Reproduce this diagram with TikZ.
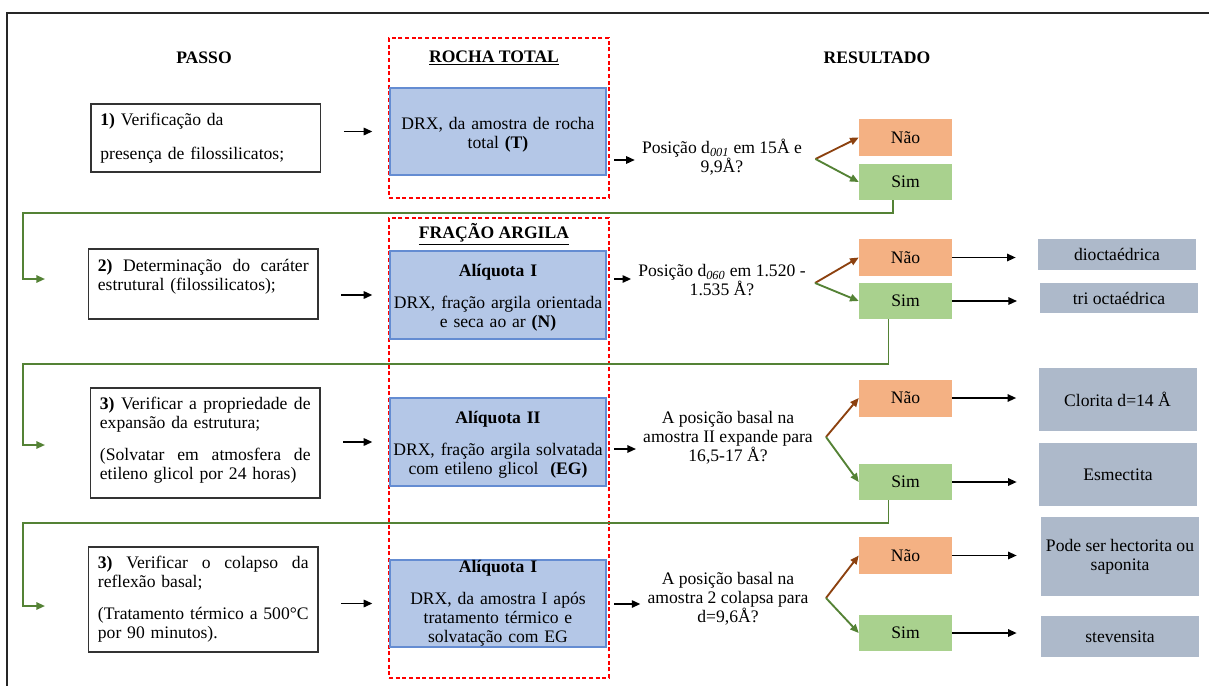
\documentclass[tikz,border=0pt]{standalone}
\usepackage{fontspec}
\setmainfont{Liberation Serif}
\usetikzlibrary{arrows.meta,calc}
\definecolor{bluefill}{RGB}{180,199,231}
\definecolor{blueline}{RGB}{100,140,210}
\definecolor{orangefill}{RGB}{244,177,131}
\definecolor{greenfill}{RGB}{169,209,142}
\definecolor{grayfill}{RGB}{173,185,202}
\definecolor{brownarr}{RGB}{140,65,15}
\definecolor{greenarr}{RGB}{84,130,53}
\newcommand{\jl}[1]{\leavevmode\hbox to 158pt{#1}}
\newcommand{\toppad}{\rule{0pt}{14pt}}
\newcommand{\botpad}{\rule[-7.5pt]{0pt}{7.5pt}}
\begin{document}
\begin{tikzpicture}[x=0.75pt,y=-0.75pt,
  every node/.style={font=\fontsize{13.2}{14.25}\selectfont, text=black},
  hdr/.style={font=\fontsize{13.2}{14.25}\selectfont\bfseries, inner sep=0pt},
  stepbox/.style={draw=black!80, line width=1pt, fill=white, text width=158pt, align=left, minimum width=172pt, minimum height=#1, inner sep=0pt},
  bluebox/.style={draw=blueline, line width=0.9pt, fill=bluefill, text width=160pt, align=center, minimum width=162pt, minimum height=#1, inner sep=0pt},
  question/.style={align=center, inner sep=0pt},
  naobox/.style={fill=orangefill, minimum width=69.75pt, minimum height=27.75pt, inner sep=0pt},
  simbox/.style={fill=greenfill, minimum width=69.75pt, minimum height=27pt, inner sep=0pt},
  resbox/.style={fill=grayfill, align=center, minimum width=118.5pt, minimum height=#1, inner sep=0pt},
  redbox/.style={draw=red, line width=1.1pt, dash pattern=on 3pt off 2pt, minimum width=165pt, minimum height=#1, inner sep=0pt},
  tip/.style={-{Triangle[length=6.5pt,width=5.5pt]}},
  arr/.style={draw=black, line width=1.4pt, tip},
  brarr/.style={draw=brownarr, line width=1.4pt, tip},
  gyarr/.style={draw=greenarr, line width=1.4pt, tip},
  loopc/.style={draw=greenarr, line width=1.4pt, tip},
  framel/.style={draw=black!85, line width=1pt}]
\useasboundingbox (0,0) rectangle (1209,686);
% frame
\coordinate (fr0) at (1209,13);
\coordinate (fr1) at (7,13);
\coordinate (fr2) at (7,686);
\draw[framel] (fr0) -- (fr1) -- (fr2);
% red dashed groups
\node[redbox=120pt] (red1) at (499,118) {};
\node[redbox=345pt] (red2) at (499,448) {};
% headers
\node[hdr] (passo) at (204,58) {PASSO};
\node[hdr] (rocha) at (494,58) {\underline{ROCHA TOTAL}};
\node[hdr] (resultado) at (877,58) {RESULTADO};
\node[hdr] (fracao) at (494,234) {\underline{FRAÇÃO ARGILA}};
% step boxes
\node[stepbox=51pt] (s1) at (205.75,138) {\textbf{1)} Verificação da\\[11pt]presença de filossilicatos;};
\node[stepbox=52.5pt] (s2) at (203.25,284) {\jl{\textbf{2)}\hfill Determinação\hfill do\hfill caráter}\\estrutural (filossilicatos);\\\mbox{}};
\node[stepbox=82.5pt] (s3) at (205.25,443) {\jl{\textbf{3)}\hfill Verificar\hfill a\hfill propriedade\hfill de}\\expansão da estrutura;\\[9.75pt]\jl{(Solvatar\hfill em\hfill atmosfera\hfill de}\\etileno glicol por 24 horas)\botpad};
\node[stepbox=78.75pt] (s4) at (203.25,599.5) {\jl{\textbf{3)}\hfill Verificar\hfill o\hfill colapso\hfill da}\\reflexão basal;\\[9.75pt]\jl{(Tratamento\hfill térmico\hfill a\hfill 500°C}\\por 90 minutos).};
% blue boxes
\node[bluebox=65.25pt] (b1) at (498,131.5) {\toppad DRX, da amostra de rocha\\total \textbf{(T)}};
\node[bluebox=66pt] (b2) at (498,295) {\toppad\textbf{Alíquota I}\\[9.75pt]DRX, fração argila orientada\\e seca ao ar \textbf{(N)}};
\node[bluebox=66pt] (b3) at (498,442) {\toppad\textbf{Alíquota II}\\[9.75pt]DRX, fração argila solvatada\\com etileno glicol~ \textbf{(EG)}};
\node[bluebox=65.25pt] (b4) at (498,603.5) {\textbf{Alíquota I}\\[9.75pt]DRX, da amostra I após\\tratamento térmico e\\solvatação com EG};
% questions
\node[question] (q1) at (722,157.5) {Posição d\textsubscript{\textit{001}} em 15Å e\\9,9Å?};
\node[question] (q2) at (722,280.5) {Posição d\textsubscript{\textit{060}} em 1.520 -\\1.535 Å?};
\node[question] (q3) at (728,437.5) {A posição basal na\\amostra II expande para\\16,5-17 Å?};
\node[question] (q4) at (728,599) {A posição basal na\\amostra 2 colapsa para\\d=9,6Å?};
% Nao / Sim
\node[naobox] (n1) at (905.5,137.5) {Não};
\node[simbox] (y1) at (905.5,182) {Sim};
\node[naobox] (n2) at (905.5,257.5) {Não};
\node[simbox] (y2) at (905.5,301) {Sim};
\node[naobox] (n3) at (905.5,398) {Não};
\node[simbox] (y3) at (905.5,482) {Sim};
\node[naobox] (n4) at (905.5,555.5) {Não};
\node[simbox] (y4) at (905.5,633) {Sim};
% results
\node[resbox=23.25pt] (r2a) at (1117,254.5) {dioctaédrica};
\node[resbox=22.5pt] (r2b) at (1119,298) {tri octaédrica};
\node[resbox=47.25pt] (r3a) at (1117.5,399.5) {Clorita d=14 Å};
\node[resbox=47.25pt] (r3b) at (1118,474.5) {Esmectita};
\node[resbox=59.25pt] (r4a) at (1120,556.5) {Pode ser hectorita ou\\saponita};
\node[resbox=30.75pt] (r4b) at (1120,636.5) {stevensita};
% step -> blue arrows
\draw[arr, shorten <=17pt, shorten >=12.75pt] (b1.west -| s1.east) -- (b1.west);
\draw[arr, shorten <=17pt, shorten >=12.75pt] (b2.west -| s2.east) -- (b2.west);
\draw[arr, shorten <=17pt, shorten >=12.75pt] (b3.west -| s3.east) -- (b3.west);
\draw[arr, shorten <=17pt, shorten >=12.75pt] (b4.west -| s4.east) -- (b4.west);
% blue -> question arrows
\draw[arr, shorten <=5.6pt, shorten >=5.2pt] ($(b1.east |- q1.west)+(0,2.5)$) -- ($(q1.west)+(0,2.5)$);
\draw[arr, shorten <=5.6pt, shorten >=5.2pt] ($(b2.east |- q2.west)+(0,-1.5)$) -- ($(q2.west)+(0,-1.5)$);
\draw[arr, shorten <=5.6pt, shorten >=5.2pt] ($(b3.east |- q3.west)+(0,11.5)$) -- ($(q3.west)+(0,11.5)$);
\draw[arr, shorten <=5.6pt, shorten >=5.2pt] ($(b4.east |- q4.west)+(0,5)$) -- ($(q4.west)+(0,5)$);
% branch points
\coordinate (br1) at (815.5,159);
\coordinate (br2) at (815,283);
\coordinate (br3) at (826,437);
\coordinate (br4) at (826,598);
\draw[brarr] (br1) -- (n1.west);
\draw[gyarr] (br1) -- (y1.west);
\draw[brarr] (br2) -- (n2.west);
\draw[gyarr] (br2) -- (y2.west);
\draw[brarr] (br3) -- (n3.west);
\draw[gyarr] (br3) -- (y3.west);
\draw[brarr] (br4) -- (n4.west);
\draw[gyarr] (br4) -- (y4.west);
% result arrows
\draw[arr, shorten >=16.5pt] (n2.east) -- (n2.east -| r2a.west);
\draw[arr, shorten >=17pt] (y2.east) -- (y2.east -| r2b.west);
\draw[arr, shorten >=16.5pt] (n3.east) -- (n3.east -| r3a.west);
\draw[arr, shorten >=16.5pt] (y3.east) -- (y3.east -| r3b.west);
\draw[arr, shorten >=18pt] (n4.east) -- (n4.east -| r4a.west);
\draw[arr, shorten >=18pt] (y4.east) -- (y4.east -| r4b.west);
% loop connectors to next step
\coordinate (e2) at (45,279);
\coordinate (e3) at (45,445);
\coordinate (e4) at (45,606);
\draw[loopc] ($(y1.south)+(-12.5,0)$) -- ++(0,13) -| ($(e2)+(-22,0)$) -- (e2);
\draw[loopc] ($(y2.south)+(-17,0)$) -- ++(0,45) -| ($(e3)+(-22,0)$) -- (e3);
\draw[loopc] ($(y3.south)+(-17,0)$) -- ++(0,23) -| ($(e4)+(-22,0)$) -- (e4);
\end{tikzpicture}
\end{document}
